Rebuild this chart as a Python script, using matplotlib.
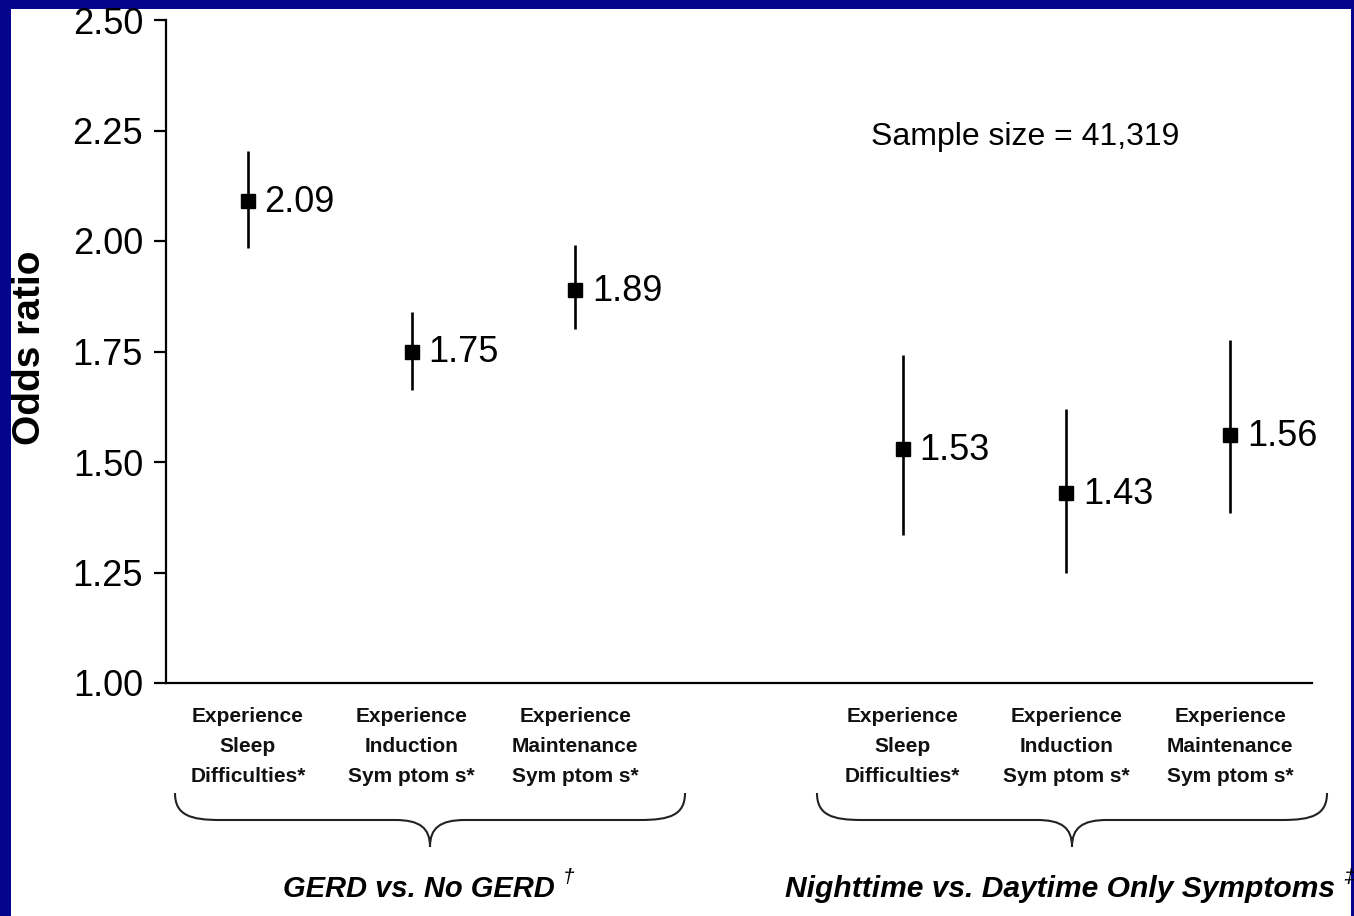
import matplotlib
matplotlib.use("Agg")
import matplotlib.pyplot as plt
from matplotlib.path import Path
from matplotlib.patches import PathPatch, Rectangle

# --- data ---------------------------------------------------------------
categories = [
    "Experience\nSleep\nDifficulties*",
    "Experience\nInduction\nSym ptom s*",
    "Experience\nMaintenance\nSym ptom s*",
    "Experience\nSleep\nDifficulties*",
    "Experience\nInduction\nSym ptom s*",
    "Experience\nMaintenance\nSym ptom s*",
]
positions = [1, 2, 3, 5, 6, 7]
odds_ratio = [2.09, 1.75, 1.89, 1.53, 1.43, 1.56]
ci_low = [1.985, 1.663, 1.800, 1.335, 1.248, 1.384]
ci_high = [2.204, 1.840, 1.991, 1.742, 1.621, 1.775]
group_titles = ["GERD vs. No GERD", "Nighttime vs. Daytime Only Symptoms"]
group_marks = ["\u2020", "\u2021"]
yticks = [1.00, 1.25, 1.50, 1.75, 2.00, 2.25, 2.50]
sample_note = "Sample size = 41,319"

W, H = 1354, 916
NAVY = "#04048c"
FONT = "Liberation Sans"
plt.rcParams["font.family"] = [FONT, "DejaVu Sans"]

fig = plt.figure(figsize=(W / 100, H / 100), dpi=100, facecolor=NAVY)

# pixel-space overlay for the slide frame, braces and group titles
ov = fig.add_axes([0, 0, 1, 1], zorder=0)
ov.set_xlim(0, W)
ov.set_ylim(H, 0)
ov.axis("off")
ov.add_patch(Rectangle((11, 9), 1340, H, facecolor="white", edgecolor="none"))

# main plot
x0, x1 = 166, 1312
y_top, y_bot = 20, 683
ax = fig.add_axes([x0 / W, 1 - y_bot / H, (x1 - x0) / W, (y_bot - y_top) / H],
                  zorder=2)
ax.set_facecolor("none")
ax.set_xlim(0.5, 7.5)
ax.set_ylim(1.0, 2.5)

for x, v, lo, hi in zip(positions, odds_ratio, ci_low, ci_high):
    ax.plot([x, x], [lo, hi], color="black", lw=1.9, solid_capstyle="butt",
            zorder=3)
    ax.plot([x], [v], marker="s", ms=10, color="black", mec="black", zorder=4)
    ax.annotate(f"{v:.2f}", (x, v), xytext=(12, -1), textcoords="offset points",
                ha="left", va="center", fontsize=26, color="black")

for side in ("top", "right"):
    ax.spines[side].set_visible(False)
for side in ("left", "bottom"):
    ax.spines[side].set_linewidth(1.6)
ax.set_yticks(yticks)
ax.set_yticklabels([f"{t:.2f}" for t in yticks])
ax.tick_params(axis="y", direction="out", length=8.5, width=1.6, pad=8,
               labelsize=26)
ax.set_xticks([])

for x, lab in zip(positions, categories):
    ax.text(x, -0.036, lab, transform=ax.get_xaxis_transform(), ha="center",
            va="top", fontsize=15, fontweight="bold", linespacing=1.75,
            color="#111111")

fig.text(30 / W, 1 - 348 / H, "Odds ratio", rotation=90, ha="center",
         va="center", fontsize=28, fontweight="bold")

ax.text(871, 137, sample_note, transform=ov.transData, ha="left",
        va="center", fontsize=23)


def brace(cx, half=255, top=793, mid=820, tip=847):
    l, r = cx - half, cx + half
    verts = [
        (l, top), (l, mid - 5), (l + 15, mid), (l + 45, mid),
        (cx - 35, mid),
        (cx - 10, mid), (cx, mid + 8), (cx, tip),
        (cx, mid + 8), (cx + 10, mid), (cx + 35, mid),
        (r - 45, mid),
        (r - 15, mid), (r, mid - 5), (r, top),
    ]
    codes = [Path.MOVETO, Path.CURVE4, Path.CURVE4, Path.CURVE4,
             Path.LINETO,
             Path.CURVE4, Path.CURVE4, Path.CURVE4,
             Path.CURVE4, Path.CURVE4, Path.CURVE4,
             Path.LINETO,
             Path.CURVE4, Path.CURVE4, Path.CURVE4]
    ov.add_patch(PathPatch(Path(verts, codes), facecolor="none",
                           edgecolor="#222222", lw=1.5))


brace_centers = [430, 1072]
title_lefts = [283, 785]
title_sizes = [21, 21.6]

fig.canvas.draw()
renderer = fig.canvas.get_renderer()
for bc, tl, ts, title, mark in zip(brace_centers, title_lefts, title_sizes,
                                   group_titles, group_marks):
    brace(bc)
    t = ov.text(tl, 889, title, ha="left", va="center",
                fontsize=ts, fontweight="bold", fontstyle="italic")
    bb = t.get_window_extent(renderer)
    ov.text(bb.x1 + 8, 878, mark, ha="left", va="center", fontsize=15,
            fontstyle="italic")

fig.savefig("out.png", dpi=100, facecolor=NAVY)
